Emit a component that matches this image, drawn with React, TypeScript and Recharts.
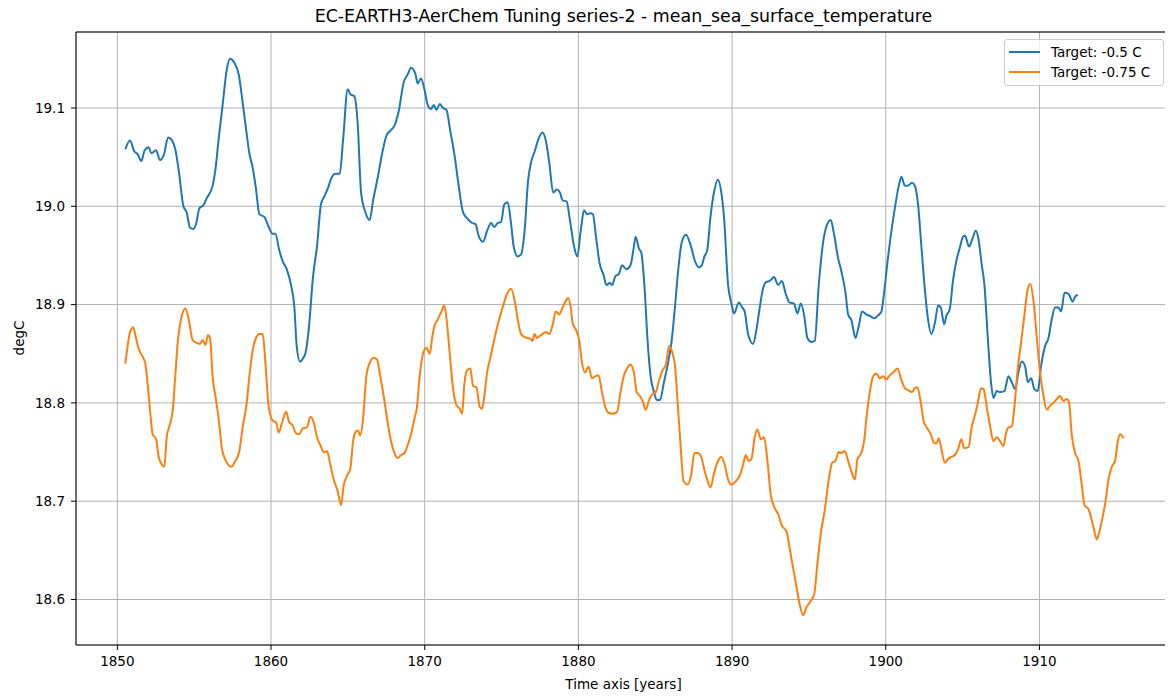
import { LineChart, Line, XAxis, YAxis, CartesianGrid, ReferenceArea } from "recharts";

const title = "EC-EARTH3-AerChem Tuning series-2 - mean_sea_surface_temperature";
const xLabel = "Time axis [years]";
const yLabel = "degC";
const seriesNames = ["Target: -0.5 C", "Target: -0.75 C"];
const seriesColors = ["#1f77b4", "#ff7f0e"];

const yearTicks = [1850, 1860, 1870, 1880, 1890, 1900, 1910];
const tempTicks = [18.6, 18.7, 18.8, 18.9, 19.0, 19.1];

// Target -0.5 C run
const blueYears = [
  1850.52, 1850.82, 1851.1, 1851.32, 1851.56, 1851.78, 1852.04, 1852.21, 1852.52, 1852.78,
  1853.04, 1853.3, 1853.56, 1853.77, 1853.99, 1854.3, 1854.51, 1854.73, 1854.95, 1855.12,
  1855.34, 1855.6, 1855.81, 1856.2, 1856.38, 1856.59, 1856.85, 1857.11, 1857.33, 1857.61,
  1857.9, 1858.11, 1858.33, 1858.59, 1858.81, 1859.02, 1859.24, 1859.57, 1859.85, 1860.11,
  1860.28, 1860.54, 1860.76, 1861.02, 1861.3, 1861.52, 1861.67, 1861.89, 1862.1, 1862.23,
  1862.45, 1862.73, 1862.99, 1863.25, 1863.47, 1863.69, 1863.97, 1864.19, 1864.47, 1864.69,
  1864.99, 1865.16, 1865.42, 1865.64, 1865.86, 1866.14, 1866.42, 1866.64, 1866.94, 1867.22,
  1867.51, 1867.77, 1868.03, 1868.31, 1868.63, 1868.89, 1869.11, 1869.39, 1869.54, 1869.76,
  1869.98, 1870.2, 1870.41, 1870.59, 1870.76, 1870.98, 1871.19, 1871.41, 1871.67, 1871.93,
  1872.21, 1872.49, 1872.75, 1873.08, 1873.3, 1873.51, 1873.8, 1874.06, 1874.32, 1874.53,
  1874.75, 1874.97, 1875.18, 1875.4, 1875.62, 1875.79, 1876.05, 1876.27, 1876.5, 1876.72,
  1876.94, 1877.16, 1877.37, 1877.66, 1877.88, 1878.1, 1878.36, 1878.58, 1878.8, 1878.97,
  1879.23, 1879.45, 1879.72, 1879.93, 1880.15, 1880.37, 1880.55, 1880.77, 1880.94, 1881.16,
  1881.38, 1881.64, 1881.82, 1882.04, 1882.19, 1882.41, 1882.63, 1882.84, 1883.13, 1883.39,
  1883.61, 1883.72, 1883.94, 1884.09, 1884.31, 1884.49, 1884.7, 1884.92, 1885.1, 1885.32,
  1885.54, 1885.8, 1886.06, 1886.28, 1886.5, 1886.72, 1887.0, 1887.33, 1887.59, 1887.88,
  1888.03, 1888.2, 1888.38, 1888.6, 1888.82, 1889.08, 1889.3, 1889.47, 1889.74, 1889.96,
  1890.13, 1890.44, 1890.66, 1890.82, 1891.04, 1891.37, 1891.58, 1891.8, 1892.01, 1892.23,
  1892.45, 1892.73, 1892.99, 1893.25, 1893.47, 1893.75, 1894.03, 1894.25, 1894.47, 1894.69,
  1894.9, 1895.16, 1895.38, 1895.64, 1895.92, 1896.2, 1896.42, 1896.64, 1896.9, 1897.11,
  1897.38, 1897.55, 1897.77, 1898.03, 1898.24, 1898.46, 1898.74, 1899.02, 1899.24, 1899.5,
  1899.72, 1899.89, 1900.11, 1900.37, 1900.63, 1900.85, 1901.02, 1901.24, 1901.45, 1901.71,
  1901.89, 1902.1, 1902.32, 1902.54, 1902.75, 1902.97, 1903.19, 1903.41, 1903.58, 1903.8,
  1903.95, 1904.16, 1904.38, 1904.6, 1904.82, 1905.03, 1905.16, 1905.42, 1905.64, 1905.86,
  1906.03, 1906.25, 1906.42, 1906.64, 1906.86, 1907.01, 1907.22, 1907.44, 1907.72, 1907.98,
  1908.2, 1908.42, 1908.63, 1908.85, 1909.07, 1909.24, 1909.46, 1909.67, 1909.89, 1910.11,
  1910.37, 1910.59, 1910.8, 1911.02, 1911.24, 1911.41, 1911.63, 1911.89, 1912.15, 1912.32,
  1912.49,
];
const blueTemps = [
  19.058, 19.067, 19.056, 19.053, 19.046, 19.057, 19.06, 19.054, 19.057, 19.047,
  19.053, 19.07, 19.067, 19.058, 19.037, 19.0, 18.994, 18.978, 18.977, 18.982,
  18.998, 19.001, 19.008, 19.021, 19.037, 19.068, 19.103, 19.138, 19.15, 19.146,
  19.134, 19.111, 19.084, 19.054, 19.039, 19.018, 18.992, 18.989, 18.979, 18.972,
  18.972, 18.955, 18.944, 18.936, 18.92, 18.897, 18.858, 18.842, 18.846, 18.85,
  18.874, 18.928, 18.959, 19.002, 19.01, 19.018, 19.03, 19.033, 19.033, 19.068,
  19.119, 19.114, 19.112, 19.084, 19.014, 18.994, 18.986, 19.006, 19.029, 19.053,
  19.072, 19.077, 19.082, 19.097, 19.126, 19.134, 19.141, 19.135, 19.125, 19.13,
  19.119, 19.103, 19.099, 19.103, 19.098, 19.104, 19.1, 19.098, 19.076, 19.053,
  19.021, 18.994, 18.988, 18.983, 18.982, 18.97, 18.964, 18.975, 18.983, 18.979,
  18.983, 18.984, 19.002, 19.004, 18.982, 18.959, 18.949, 18.951, 18.975, 19.025,
  19.046, 19.056, 19.067, 19.075, 19.067, 19.045, 19.014, 19.017, 19.014, 19.006,
  19.005, 18.986, 18.959, 18.949, 18.975, 18.996, 18.992, 18.993, 18.992, 18.967,
  18.942, 18.93, 18.92, 18.922, 18.92, 18.929, 18.931, 18.94, 18.936, 18.94,
  18.959, 18.969, 18.957, 18.953, 18.916, 18.866, 18.827, 18.811, 18.803, 18.803,
  18.819, 18.838, 18.862, 18.897, 18.936, 18.963, 18.971, 18.959, 18.944, 18.938,
  18.94, 18.949, 18.955, 18.99, 19.014, 19.027, 19.014, 18.99, 18.92, 18.901,
  18.891, 18.902, 18.897, 18.893, 18.87, 18.86, 18.874, 18.897, 18.916, 18.923,
  18.924, 18.928, 18.92, 18.924, 18.912, 18.902, 18.901, 18.891, 18.901, 18.889,
  18.866, 18.862, 18.863, 18.92, 18.963, 18.982, 18.986, 18.971, 18.947, 18.934,
  18.912, 18.89, 18.884, 18.866, 18.878, 18.893, 18.89, 18.888, 18.886, 18.889,
  18.893, 18.912, 18.943, 18.975, 19.002, 19.021, 19.03, 19.021, 19.021, 19.024,
  19.021, 19.002, 18.959, 18.916, 18.885, 18.87, 18.881, 18.899, 18.897, 18.88,
  18.889, 18.895, 18.925, 18.945, 18.958, 18.969, 18.97, 18.959, 18.967, 18.975,
  18.967, 18.94, 18.92, 18.866, 18.819, 18.805, 18.812, 18.811, 18.812, 18.827,
  18.821, 18.814, 18.831, 18.842, 18.837, 18.821, 18.825, 18.814, 18.812, 18.838,
  18.858, 18.866, 18.885, 18.897, 18.897, 18.893, 18.912, 18.911, 18.903, 18.908,
  18.91,
];

// Target -0.75 C run
const orangeYears = [
  1850.52, 1850.67, 1850.82, 1851.04, 1851.21, 1851.39, 1851.61, 1851.82, 1851.97, 1852.13,
  1852.3, 1852.52, 1852.69, 1852.91, 1853.06, 1853.21, 1853.38, 1853.6, 1853.77, 1853.93,
  1854.14, 1854.43, 1854.64, 1854.9, 1855.16, 1855.38, 1855.55, 1855.73, 1855.9, 1856.03,
  1856.2, 1856.42, 1856.59, 1856.81, 1857.07, 1857.4, 1857.68, 1857.94, 1858.16, 1858.42,
  1858.59, 1858.81, 1859.02, 1859.24, 1859.46, 1859.63, 1859.85, 1860.11, 1860.33, 1860.5,
  1860.72, 1860.98, 1861.19, 1861.37, 1861.63, 1861.84, 1862.06, 1862.34, 1862.56, 1862.78,
  1862.99, 1863.21, 1863.43, 1863.64, 1863.86, 1864.08, 1864.34, 1864.56, 1864.73, 1864.95,
  1865.16, 1865.34, 1865.49, 1865.64, 1865.81, 1865.99, 1866.2, 1866.46, 1866.68, 1866.9,
  1867.11, 1867.33, 1867.59, 1867.81, 1868.03, 1868.24, 1868.46, 1868.68, 1868.89, 1869.11,
  1869.33, 1869.5, 1869.67, 1869.89, 1870.11, 1870.33, 1870.48, 1870.63, 1870.85, 1871.06,
  1871.28, 1871.45, 1871.63, 1871.84, 1872.06, 1872.28, 1872.43, 1872.58, 1872.75, 1872.97,
  1873.15, 1873.36, 1873.58, 1873.73, 1873.88, 1874.06, 1874.27, 1874.49, 1874.71, 1874.92,
  1875.14, 1875.36, 1875.62, 1875.84, 1876.05, 1876.27, 1876.49, 1876.7, 1876.9, 1877.0,
  1877.16, 1877.31, 1877.48, 1877.66, 1877.88, 1878.1, 1878.32, 1878.53, 1878.75, 1878.97,
  1879.19, 1879.34, 1879.5, 1879.63, 1879.85, 1880.07, 1880.22, 1880.44, 1880.66, 1880.88,
  1881.09, 1881.31, 1881.53, 1881.75, 1881.97, 1882.25, 1882.52, 1882.74, 1882.95, 1883.17,
  1883.39, 1883.61, 1883.79, 1884.0, 1884.22, 1884.38, 1884.6, 1884.81, 1885.03, 1885.25,
  1885.47, 1885.69, 1885.91, 1886.13, 1886.28, 1886.46, 1886.63, 1886.85, 1887.11, 1887.33,
  1887.55, 1887.77, 1887.99, 1888.21, 1888.42, 1888.6, 1888.82, 1889.08, 1889.3, 1889.52,
  1889.74, 1889.96, 1890.22, 1890.5, 1890.72, 1890.88, 1891.08, 1891.26, 1891.47, 1891.65,
  1891.87, 1892.08, 1892.3, 1892.52, 1892.78, 1892.99, 1893.25, 1893.54, 1893.75, 1893.97,
  1894.19, 1894.4, 1894.62, 1894.84, 1895.05, 1895.34, 1895.55, 1895.77, 1896.03, 1896.29,
  1896.51, 1896.72, 1896.94, 1897.11, 1897.33, 1897.55, 1897.77, 1897.99, 1898.16, 1898.37,
  1898.59, 1898.74, 1898.96, 1899.18, 1899.39, 1899.61, 1899.83, 1900.04, 1900.26, 1900.48,
  1900.76, 1900.98, 1901.24, 1901.45, 1901.71, 1901.89, 1902.06, 1902.28, 1902.49, 1902.71,
  1902.93, 1903.15, 1903.3, 1903.45, 1903.62, 1903.84, 1904.06, 1904.27, 1904.49, 1904.71,
  1904.92, 1905.1, 1905.38, 1905.6, 1905.81, 1905.99, 1906.2, 1906.36, 1906.57, 1906.79,
  1907.01, 1907.22, 1907.44, 1907.66, 1907.81, 1907.98, 1908.2, 1908.37, 1908.59, 1908.81,
  1909.02, 1909.24, 1909.41, 1909.61, 1909.83, 1910.04, 1910.26, 1910.48, 1910.69, 1910.91,
  1911.13, 1911.34, 1911.56, 1911.78, 1911.93, 1912.1, 1912.32, 1912.54, 1912.76, 1912.93,
  1913.19, 1913.41, 1913.58, 1913.73, 1913.9, 1914.1, 1914.32, 1914.49, 1914.71, 1914.92,
  1915.1, 1915.25, 1915.47,
];
const orangeTemps = [
  18.84, 18.858, 18.872, 18.877, 18.866, 18.855, 18.848, 18.84, 18.819, 18.792,
  18.768, 18.763, 18.745, 18.737, 18.735, 18.765, 18.776, 18.792, 18.827, 18.862,
  18.885, 18.896, 18.885, 18.864, 18.861, 18.86, 18.864, 18.859, 18.869, 18.866,
  18.827, 18.803, 18.784, 18.753, 18.741, 18.735, 18.741, 18.751, 18.776, 18.8,
  18.827, 18.854, 18.866, 18.87, 18.87, 18.842, 18.796, 18.782, 18.78, 18.77,
  18.78, 18.791, 18.78, 18.778, 18.769, 18.768, 18.774, 18.775, 18.786, 18.78,
  18.765, 18.757, 18.75, 18.751, 18.737, 18.722, 18.71, 18.696, 18.716, 18.726,
  18.733, 18.761, 18.77, 18.772, 18.767, 18.784, 18.827, 18.842, 18.846, 18.844,
  18.827, 18.807, 18.78, 18.761, 18.749, 18.744, 18.747, 18.749, 18.757, 18.768,
  18.784, 18.796, 18.827, 18.85, 18.856, 18.85, 18.866, 18.878, 18.885, 18.892,
  18.899, 18.881, 18.85, 18.815, 18.798, 18.794, 18.789, 18.819, 18.833, 18.835,
  18.817, 18.816, 18.796, 18.794, 18.807, 18.831, 18.846, 18.862, 18.877, 18.889,
  18.901, 18.911, 18.916, 18.905, 18.885, 18.87, 18.867, 18.866, 18.865, 18.863,
  18.87, 18.866, 18.868, 18.87, 18.872, 18.87, 18.879, 18.893, 18.89, 18.897,
  18.904, 18.907, 18.897, 18.881, 18.874, 18.862, 18.842, 18.831, 18.837, 18.825,
  18.827, 18.828, 18.811, 18.796, 18.79, 18.789, 18.791, 18.811, 18.827, 18.835,
  18.839, 18.831, 18.811, 18.807, 18.8, 18.793, 18.803, 18.809, 18.811, 18.823,
  18.833, 18.839, 18.858, 18.85, 18.839, 18.8, 18.761, 18.72, 18.717, 18.726,
  18.749, 18.749, 18.745, 18.731, 18.72, 18.714, 18.728, 18.741, 18.745, 18.737,
  18.722, 18.717, 18.72, 18.726, 18.737, 18.747, 18.741, 18.743, 18.765, 18.773,
  18.763, 18.765, 18.741, 18.706, 18.693, 18.687, 18.675, 18.669, 18.652, 18.632,
  18.613, 18.595, 18.584, 18.592, 18.597, 18.605, 18.636, 18.667, 18.691, 18.722,
  18.739, 18.741, 18.75, 18.749, 18.751, 18.741, 18.73, 18.722, 18.743, 18.748,
  18.761, 18.784, 18.811, 18.827, 18.83, 18.825, 18.827, 18.824, 18.828, 18.831,
  18.835, 18.825, 18.815, 18.813, 18.811, 18.815, 18.816, 18.8, 18.78, 18.774,
  18.768, 18.759, 18.759, 18.764, 18.753, 18.739, 18.743, 18.745, 18.747, 18.753,
  18.763, 18.754, 18.755, 18.776, 18.788, 18.8, 18.815, 18.814, 18.796, 18.776,
  18.761, 18.765, 18.761, 18.756, 18.768, 18.775, 18.776, 18.796, 18.835, 18.862,
  18.889, 18.916, 18.921, 18.904, 18.866, 18.831, 18.807, 18.793, 18.797, 18.8,
  18.804, 18.807, 18.802, 18.804, 18.8, 18.768, 18.749, 18.741, 18.716, 18.696,
  18.692, 18.68, 18.669, 18.661, 18.669, 18.683, 18.702, 18.722, 18.735, 18.741,
  18.761, 18.768, 18.764,
];

const X_MIN = 1847.31;
const X_MAX = 1918.56;
const Y_MIN = 18.5537;
const Y_MAX = 19.1773;

const blueData = blueYears.map((year, i) => ({ year, temp: blueTemps[i] }));
const orangeData = orangeYears.map((year, i) => ({ year, temp: orangeTemps[i] }));
const series = [blueData, orangeData];

const FONT = "'DejaVu Sans', sans-serif";
const W = 1173;
const H = 697;

export default function App() {
  // negative margin cancels the body margin so the chart fills the window exactly
  return (
    <div style={{ position: "relative", width: W, height: H, margin: "-8px 0 0 -8px", fontFamily: FONT, color: "#000" }}>
      <div
        style={{
          position: "absolute",
          top: 7,
          left: 76,
          width: 1095,
          textAlign: "center",
          fontSize: 17.4,
          lineHeight: "18px",
        }}
      >
        {title}
      </div>
      <LineChart width={W} height={H} margin={{ top: 32, right: 2, bottom: 22, left: 16 }}>
        <CartesianGrid stroke="#b0b0b0" strokeWidth={1} />
        <XAxis
          dataKey="year"
          type="number"
          domain={[X_MIN, X_MAX]}
          ticks={yearTicks}
          allowDataOverflow
          height={30}
          tickSize={5}
          tickMargin={6}
          axisLine={false}
          tickLine={{ stroke: "#000" }}
          tick={{ fill: "#000", fontSize: 13.5 }}
        />
        <YAxis
          type="number"
          domain={[Y_MIN, Y_MAX]}
          ticks={tempTicks}
          allowDataOverflow
          width={60}
          tickSize={5}
          tickMargin={6}
          axisLine={false}
          tickLine={{ stroke: "#000" }}
          tick={{ fill: "#000", fontSize: 13.5 }}
          tickFormatter={(v: number) => v.toFixed(1)}
        />
        {series.map((data, i) => (
          <Line
            key={seriesNames[i]}
            data={data}
            dataKey="temp"
            name={seriesNames[i]}
            type="monotone"
            stroke={seriesColors[i]}
            strokeWidth={2}
            dot={false}
            activeDot={false}
            isAnimationActive={false}
          />
        ))}
        {/* frame around the axes */}
        <ReferenceArea x1={X_MIN} x2={X_MAX} y1={Y_MIN} y2={Y_MAX} fill="none" stroke="#000" strokeWidth={1} />
      </LineChart>
      <div
        style={{
          position: "absolute",
          top: 677,
          left: 76,
          width: 1095,
          textAlign: "center",
          fontSize: 13.5,
          lineHeight: "14px",
        }}
      >
        {xLabel}
      </div>
      <div
        style={{
          position: "absolute",
          left: 19,
          top: 338,
          fontSize: 13.5,
          lineHeight: "14px",
          transform: "translate(-50%, -50%) rotate(-90deg)",
          whiteSpace: "nowrap",
        }}
      >
        {yLabel}
      </div>
      <div
        style={{
          position: "absolute",
          left: 1004,
          top: 39,
          width: 158,
          height: 45,
          border: "1px solid #cccccc",
          borderRadius: 3,
          background: "rgba(255,255,255,0.8)",
          fontSize: 13.5,
        }}
      >
        {seriesNames.map((name, i) => (
          <div key={name} style={{ position: "absolute", left: 4, top: 3 + i * 20.5, height: 17, display: "flex", alignItems: "center" }}>
            <div style={{ width: 31, height: 2, background: seriesColors[i], marginRight: 11 }} />
            <span style={{ whiteSpace: "nowrap" }}>{name}</span>
          </div>
        ))}
      </div>
    </div>
  );
}
